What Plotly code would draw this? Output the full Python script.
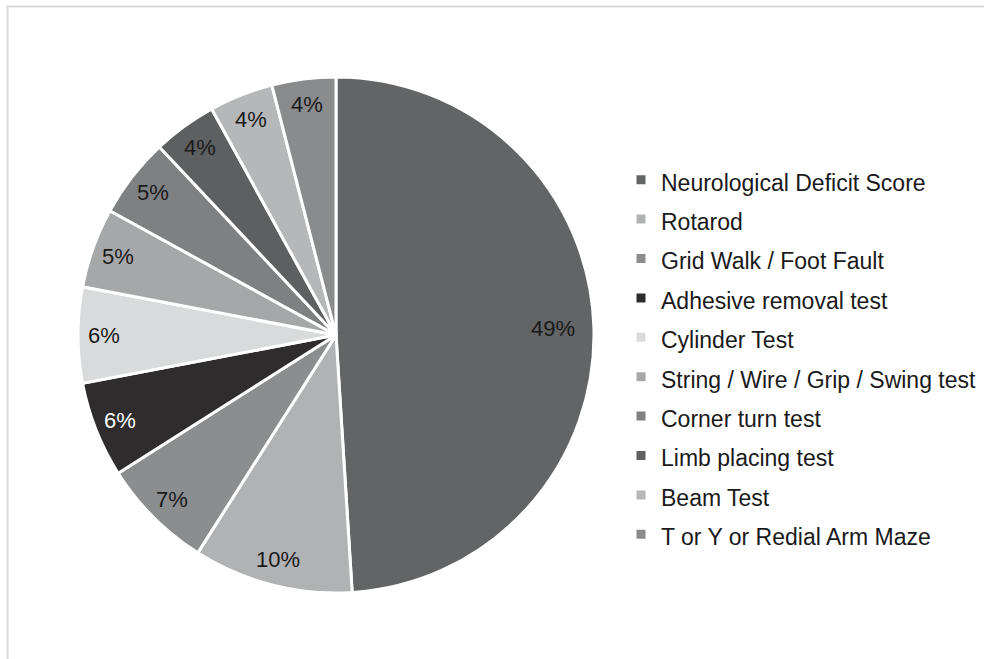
import math
import plotly.graph_objects as go

# Behavioural tests used in the reviewed studies (share of studies, %)
categories = [
    "Neurological Deficit Score",
    "Rotarod",
    "Grid Walk / Foot Fault",
    "Adhesive removal test",
    "Cylinder Test",
    "String / Wire / Grip / Swing test",
    "Corner turn test",
    "Limb placing test",
    "Beam Test",
    "T or Y or Redial Arm Maze",
]
shares = [49, 10, 7, 6, 6, 5, 5, 4, 4, 4]

slice_colors = [
    "#636466", "#b1b2b4", "#8c8d8f", "#2e2c2d", "#d9dadb",
    "#a6a7a9", "#7f8082", "#5e5f61", "#b6b7b9", "#8a8b8d",
]
label_colors = ["#1a1a1a"] * len(categories)
label_colors[3] = "#ffffff"

W, H = 984, 659
cx, cy, r = 336, 335, 258
FONT = "Arial, Liberation Sans"

legend_labels = [f'<span style="font-size:23px">{c}</span>' for c in categories]

fig = go.Figure(
    go.Pie(
        labels=legend_labels,
        values=shares,
        sort=False,
        direction="clockwise",
        rotation=0,
        marker=dict(colors=slice_colors, line=dict(color="#ffffff", width=3)),
        textinfo="none",
        hoverinfo="label+percent",
        domain=dict(
            x=[(cx - r) / W, (cx + r) / W],
            y=[1 - (cy + r) / H, 1 - (cy - r) / H],
        ),
    )
)

# Percentage labels placed near the outer rim of each slice, at its mid-angle
total = sum(shares)
annotations = []
start = 0.0
for share, col in zip(shares, label_colors):
    mid = (start + share / 2) / total * 2 * math.pi
    start += share
    rr = r * (0.84 if share / total > 0.25 else 0.9)
    annotations.append(
        dict(
            x=(cx + rr * math.sin(mid)) / W,
            y=1 - (cy - rr * math.cos(mid)) / H,
            xref="paper", yref="paper",
            text=f"{round(share / total * 100)}%",
            showarrow=False,
            font=dict(size=22, color=col, family=FONT),
            xanchor="center", yanchor="middle",
        )
    )

fig.update_layout(
    width=W,
    height=H,
    margin=dict(l=0, r=0, t=0, b=0),
    paper_bgcolor="#ffffff",
    font=dict(family=FONT, color="#1a1a1a"),
    showlegend=True,
    legend=dict(
        x=621 / W,
        xanchor="left",
        y=1 - 155 / H,
        yanchor="top",
        font=dict(size=28, color="#1a1a1a"),
        itemwidth=30,
        bgcolor="rgba(0,0,0,0)",
    ),
    annotations=annotations,
    shapes=[
        dict(
            type="rect", xref="paper", yref="paper",
            x0=7.5 / W, x1=1.05, y0=-0.05, y1=1 - 6.5 / H,
            line=dict(color="#dadada", width=2), layer="below",
        )
    ],
)

fig.write_html("out.html")
